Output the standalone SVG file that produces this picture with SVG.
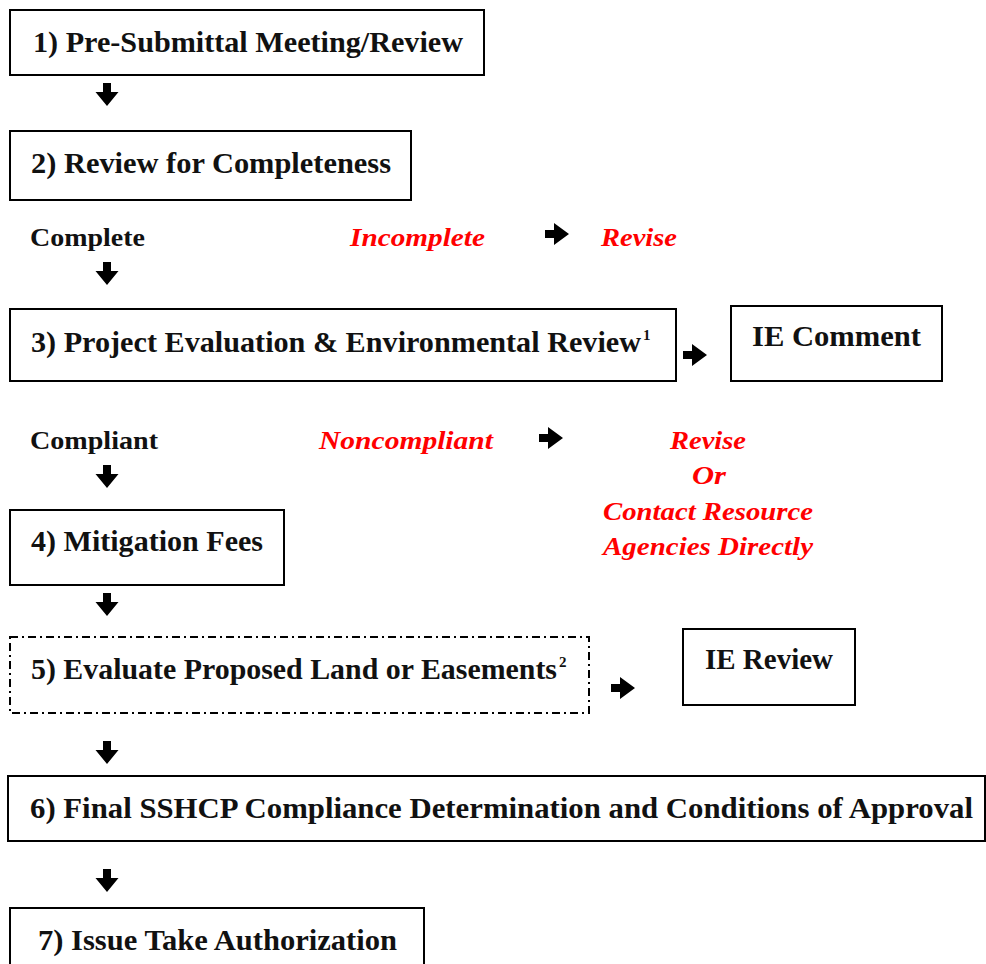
<svg xmlns="http://www.w3.org/2000/svg" width="986" height="964" viewBox="0 0 986 964">
  <defs>
    <style>
      .box { fill: #fff; stroke: #000; stroke-width: 2; }
      .dashbox { fill: #fff; stroke: #000; stroke-width: 2; stroke-dasharray: 8 4 2 4; }
      .t { font-family: "Liberation Serif", "Times New Roman", serif; font-weight: bold; font-size: 30px; fill: #111; }
      .sup { font-family: "Liberation Serif", "Times New Roman", serif; font-weight: bold; font-size: 15px; fill: #111; }
      .lbl { font-family: "Liberation Serif", "Times New Roman", serif; font-weight: bold; font-size: 25px; fill: #111; }
      .red { font-family: "Liberation Serif", "Times New Roman", serif; font-weight: bold; font-style: italic; font-size: 26px; fill: #ff0000; }
      .arr { fill: #000; }
    </style>
    <!-- block arrows, tip at the end of the path -->
    <path id="down" class="arr" d="M-4,0 H4 V9 H11.5 L0,23 L-11.5,9 H-4 Z"/>
    <path id="right" class="arr" d="M0,-4 H9 V-11 L24,0 L9,11 V4 H0 Z"/>
  </defs>
  <rect width="986" height="964" fill="#fff"/>

  <g id="connectors">
    <use href="#down" x="107" y="83"/>
    <use href="#down" x="107" y="262"/>
    <use href="#down" x="107" y="465"/>
    <use href="#down" x="107" y="593"/>
    <use href="#down" x="107" y="741"/>
    <use href="#down" x="107" y="869"/>
    <use href="#right" x="545" y="234"/>
    <use href="#right" x="683" y="355"/>
    <use href="#right" x="539" y="438"/>
    <use href="#right" x="611" y="688"/>
  </g>

  <g id="step1">
    <rect class="box" x="10" y="10" width="474" height="65"/>
    <text class="t" x="33" y="52" textLength="430" lengthAdjust="spacingAndGlyphs">1) Pre-Submittal Meeting/Review</text>
  </g>

  <g id="step2">
    <rect class="box" x="10" y="131" width="401" height="69"/>
    <text class="t" x="31" y="173" textLength="360" lengthAdjust="spacingAndGlyphs">2) Review for Completeness</text>
  </g>

  <g id="completeness-outcomes">
    <text class="lbl" x="30" y="246" textLength="115" lengthAdjust="spacingAndGlyphs">Complete</text>
    <text class="red" x="350" y="246" textLength="135" lengthAdjust="spacingAndGlyphs">Incomplete</text>
    <text class="red" x="601" y="246" textLength="76" lengthAdjust="spacingAndGlyphs">Revise</text>
  </g>

  <g id="step3">
    <rect class="box" x="10" y="309" width="666" height="72"/>
    <text class="t" x="31" y="352" textLength="610" lengthAdjust="spacingAndGlyphs">3) Project Evaluation &amp; Environmental Review</text>
    <text class="sup" x="643" y="340">1</text>
  </g>

  <g id="ie-comment">
    <rect class="box" x="731" y="306" width="211" height="75"/>
    <text class="t" x="752" y="346" textLength="169" lengthAdjust="spacingAndGlyphs">IE Comment</text>
  </g>

  <g id="compliance-outcomes">
    <text class="lbl" x="30" y="449" textLength="128" lengthAdjust="spacingAndGlyphs">Compliant</text>
    <text class="red" x="319" y="449" textLength="174" lengthAdjust="spacingAndGlyphs">Noncompliant</text>
    <g text-anchor="middle">
      <text class="red" x="708" y="449" textLength="76" lengthAdjust="spacingAndGlyphs">Revise</text>
      <text class="red" x="709" y="484" textLength="34" lengthAdjust="spacingAndGlyphs">Or</text>
      <text class="red" x="708" y="520" textLength="210" lengthAdjust="spacingAndGlyphs">Contact Resource</text>
      <text class="red" x="708" y="555" textLength="210" lengthAdjust="spacingAndGlyphs">Agencies Directly</text>
    </g>
  </g>

  <g id="step4">
    <rect class="box" x="10" y="510" width="274" height="75"/>
    <text class="t" x="31" y="551" textLength="232" lengthAdjust="spacingAndGlyphs">4) Mitigation Fees</text>
  </g>

  <g id="step5">
    <rect class="dashbox" x="10" y="637" width="579" height="76"/>
    <text class="t" x="31" y="679" textLength="526" lengthAdjust="spacingAndGlyphs">5) Evaluate Proposed Land or Easements</text>
    <text class="sup" x="559" y="667">2</text>
  </g>

  <g id="ie-review">
    <rect class="box" x="683" y="629" width="172" height="76"/>
    <text class="t" x="705" y="669" textLength="128" lengthAdjust="spacingAndGlyphs">IE Review</text>
  </g>

  <g id="step6">
    <rect class="box" x="8" y="776" width="977" height="65"/>
    <text class="t" x="30" y="818" textLength="943" lengthAdjust="spacingAndGlyphs">6) Final SSHCP Compliance Determination and Conditions of Approval</text>
  </g>

  <g id="step7">
    <rect class="box" x="10" y="908" width="414" height="70"/>
    <text class="t" x="38" y="950" textLength="359" lengthAdjust="spacingAndGlyphs">7) Issue Take Authorization</text>
  </g>
</svg>
